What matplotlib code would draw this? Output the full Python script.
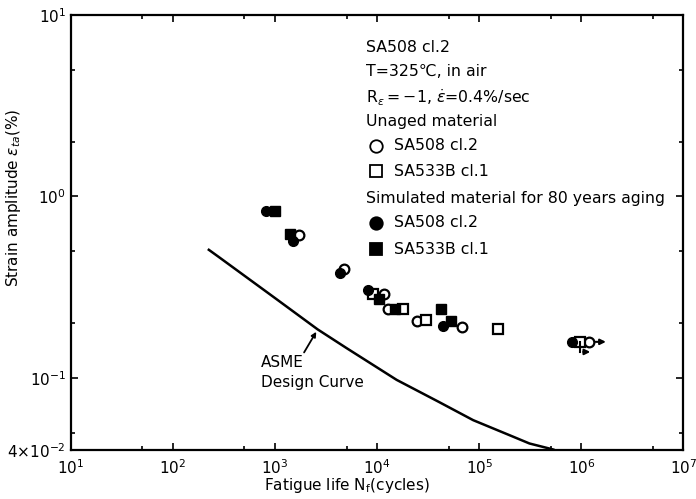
import matplotlib
matplotlib.use('Agg')
import matplotlib.pyplot as plt
from matplotlib.ticker import FixedLocator, FixedFormatter, LogLocator, NullFormatter

plt.rcParams['font.family'] = ['DejaVu Sans']
plt.rcParams['mathtext.fontset'] = 'dejavusans'

# datos (N ciclos, amplitud %)
# material sin envejecer
sa508_N = [1700, 4700, 11700, 12700, 24500, 68000, 1.2e6]
sa508_eps = [0.61, 0.40, 0.29, 0.241, 0.207, 0.19, 0.158]
sa533_N = [9000, 17800, 30000, 151000, 0.98e6]
sa533_eps = [0.29, 0.241, 0.209, 0.185, 0.158]
# simulado 80 anos
sa508a_N = [820, 1500, 4300, 8100, 44000, 8.1e5]
sa508a_eps = [0.834, 0.57, 0.38, 0.304, 0.192, 0.158]
sa533a_N = [990, 1400, 10500, 15000, 42000, 52500]
sa533a_eps = [0.834, 0.62, 0.271, 0.241, 0.239, 0.205]

# curva de diseno ASME
asme_N = [224, 280, 1000, 2610, 5000, 15500, 40000, 87000, 200000, 310000, 530000]
asme_eps = [0.508, 0.464, 0.275, 0.185, 0.146, 0.0975, 0.0738, 0.0585, 0.0482, 0.0435, 0.0403]

# runout (sin rotura)
run_circ = (1.2e6, 0.158, 1.85e6)
run_sq = (0.98e6, 0.158, 0.139, 1.3e6)

fig = plt.figure(figsize=(6.96, 4.99), dpi=100)
ax = fig.add_axes([0.102, 0.098, 0.88, 0.872])
ax.set_xscale('log'); ax.set_yscale('log')
ax.set_xlim(10, 1e7); ax.set_ylim(0.04, 10)

ax.plot(asme_N, asme_eps, 'k-', lw=1.8)

ms = 7
ax.plot(sa508_N, sa508_eps, 'o', mfc='white', mec='k', mew=1.6, ms=ms, ls='none')
ax.plot(sa533_N, sa533_eps, 's', mfc='white', mec='k', mew=1.6, ms=ms-0.5, ls='none')
ax.plot(sa508a_N, sa508a_eps, 'o', mfc='k', mec='k', ms=ms, ls='none')
ax.plot(sa533a_N, sa533a_eps, 's', mfc='k', mec='k', ms=ms-0.5, ls='none')

# flechas runout
ax.annotate('', xy=(run_circ[2], run_circ[1]), xytext=(run_circ[0]*1.08, run_circ[1]),
            arrowprops=dict(arrowstyle='-|>', color='k', lw=1.5, mutation_scale=8))
ax.plot([run_sq[0], run_sq[0]], [run_sq[1], run_sq[2]], 'k-', lw=1.5)
ax.annotate('', xy=(run_sq[3], run_sq[2]), xytext=(run_sq[0], run_sq[2]),
            arrowprops=dict(arrowstyle='-|>', color='k', lw=1.5, mutation_scale=8))

# etiqueta ASME
ax.annotate('', xy=(2610, 0.185), xytext=(1860, 0.134),
            arrowprops=dict(arrowstyle='-|>', color='k', lw=1.3, mutation_scale=7))
ax.text(731, 0.1066, 'ASME\nDesign Curve', fontsize=11, ha='left', va='center', linespacing=1.4)

# leyenda manual
fs = 11.3
tx = 0.482
lines = [(0.926, 'SA508 cl.2'), (0.869, 'T=325\u2103, in air'),
         (0.811, r'R$_\varepsilon$$=-$1, $\dot{\varepsilon}$=0.4%/sec'),
         (0.756, 'Unaged material'), (0.579, 'Simulated material for 80 years aging')]
for yy, s in lines:
    ax.text(tx, yy, s, transform=ax.transAxes, fontsize=fs, va='center', ha='left')
items = [(0.699, 'o', 'white', 'SA508 cl.2'), (0.641, 's', 'white', 'SA533B cl.1'),
         (0.522, 'o', 'k', 'SA508 cl.2'), (0.462, 's', 'k', 'SA533B cl.1')]
for yy, m, fc, s in items:
    ax.plot([0.498], [yy], m, mfc=fc, mec='k', mew=1.3, ms=9, transform=ax.transAxes)
    ax.text(0.527, yy, s, transform=ax.transAxes, fontsize=fs, va='center', ha='left')

# ejes
ax.xaxis.set_major_locator(FixedLocator([1e1, 1e2, 1e3, 1e4, 1e5, 1e6, 1e7]))
ax.xaxis.set_major_formatter(FixedFormatter([r'10$^{%d}$' % i for i in range(1, 8)]))
ax.xaxis.set_minor_locator(LogLocator(base=10, subs=[5]))
ax.xaxis.set_minor_formatter(NullFormatter())
ax.yaxis.set_major_locator(FixedLocator([0.04, 0.1, 1, 10]))
ax.yaxis.set_major_formatter(FixedFormatter([r'4$\times$10$^{-2}$', r'10$^{-1}$', r'10$^{0}$', r'10$^{1}$']))
ax.yaxis.set_minor_locator(LogLocator(base=10, subs=[2, 5]))
ax.yaxis.set_minor_formatter(NullFormatter())
ax.tick_params(which='both', direction='in', top=True, right=True, labelsize=11, width=1.2)
ax.tick_params(which='major', length=5)
ax.tick_params(which='minor', length=3)
ax.tick_params(axis='x', which='major', pad=6)
for sp in ax.spines.values():
    sp.set_linewidth(1.6)

ax.set_xlabel(r'Fatigue life N$_\mathregular{f}$(cycles)', fontsize=11)
ax.set_ylabel(r'Strain amplitude $\varepsilon_{ta}$(%)', fontsize=11)
ax.xaxis.set_label_coords(0.45, -0.06)
ax.yaxis.set_label_coords(-0.078, 0.58)

plt.savefig('out.png', dpi=100)
